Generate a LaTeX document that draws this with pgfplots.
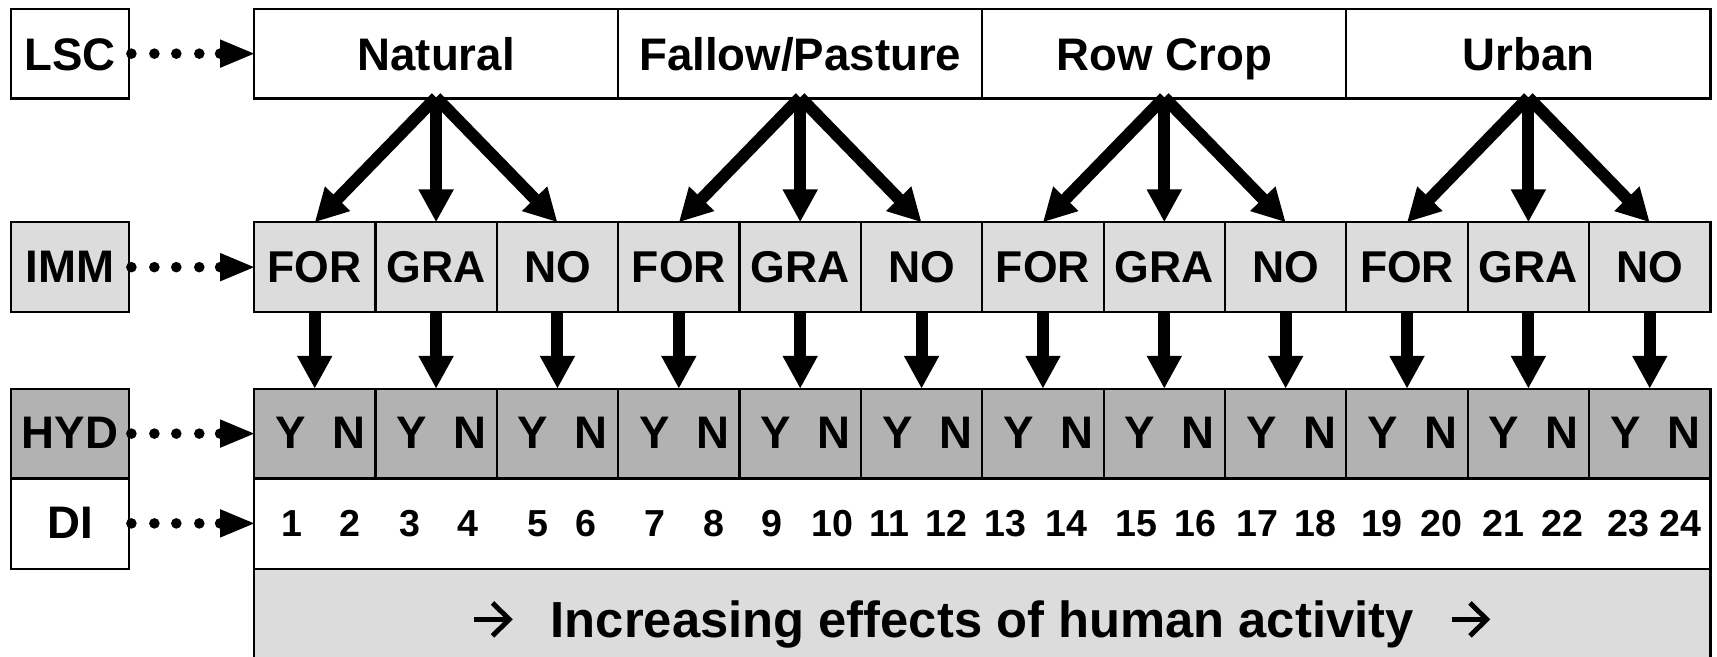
\documentclass[border=0pt]{standalone}
\usepackage{pgfplots}
\pgfplotsset{compat=1.18}
\usepackage{pgfplotstable}
\usepackage{fontspec}
\setmainfont{Liberation Sans}
\usetikzlibrary{arrows.meta}
\definecolor{lg}{HTML}{DCDCDC}
\definecolor{dg}{HTML}{B2B2B2}
\newcommand{\txtarrow}{\tikz[baseline=0pt]{\draw[line width=1.35pt,-{Straight Barb[length=4.6pt,width=9pt,line width=1.35pt]}] (0,4.9pt) -- (10.6pt,4.9pt);}}
\pgfplotstableread{
x label
267 1
320 2
374 3
427 4
491 5
535 6
598 7
652 8
705 9
760 10
812 11
864 12
918 13
974 14
1038 15
1092 16
1148 17
1201 18
1262 19
1316 20
1373 21
1427 22
1487 23
1535 24
}\ditable
\begin{document}
\begin{tikzpicture}
\begin{axis}[width=470.4pt,height=180pt,scale only axis,
  xmin=0,xmax=1568,ymin=0,ymax=600,hide axis,clip=false]
% left label boxes
\draw[line width=0.6pt,fill=white] (10,510) rectangle (118,592);
\draw[line width=0.6pt,fill=lg] (10,315) rectangle (118,397);
\draw[line width=0.6pt,fill=dg] (10,163) rectangle (118,245);
\draw[line width=0.6pt,fill=white] (10,80) rectangle (118,163);
\node[anchor=base,font=\bfseries\fontsize{12.5}{15}\selectfont,inner sep=0pt] at (64,536) {LSC};
\node[anchor=base,font=\bfseries\fontsize{12.5}{15}\selectfont,inner sep=0pt] at (64,342) {IMM};
\node[anchor=base,font=\bfseries\fontsize{12.5}{15}\selectfont,inner sep=0pt] at (64,190) {HYD};
\node[anchor=base,font=\bfseries\fontsize{12.5}{15}\selectfont,inner sep=0pt] at (64,108) {DI};
% dotted arrows
\pgfplotsinvokeforeach{551,356,204,122}{
  \fill (120,#1) circle[radius=1.45pt];
  \fill (141,#1) circle[radius=1.45pt];
  \fill (161,#1) circle[radius=1.45pt];
  \fill (182,#1) circle[radius=1.45pt];
  \fill (201,#1) circle[radius=1.45pt];
  \fill (201,{#1+13}) -- (232,#1) -- (201,{#1-13}) -- cycle;
}
% top row
\pgfplotsinvokeforeach{0,1,2,3}{
  \draw[line width=0.6pt,fill=white] ({232+#1*332.5},510) rectangle ({232+(#1+1)*332.5},592);
}
\node[anchor=base,font=\bfseries\fontsize{12.5}{15}\selectfont,inner sep=0pt] at (398.25,536) {Natural};
\node[anchor=base,font=\bfseries\fontsize{12.5}{15}\selectfont,inner sep=0pt] at (730.75,536) {Fallow/Pasture};
\node[anchor=base,font=\bfseries\fontsize{12.5}{15}\selectfont,inner sep=0pt] at (1063.25,536) {Row Crop};
\node[anchor=base,font=\bfseries\fontsize{12.5}{15}\selectfont,inner sep=0pt] at (1395.75,536) {Urban};
% IMM and HYD cells
\pgfplotsinvokeforeach{0,...,11}{
  \draw[line width=0.6pt,fill=lg] ({232+#1*110.833},315) rectangle ({232+(#1+1)*110.833},397);
  \draw[line width=0.6pt,fill=dg] ({232+#1*110.833},163) rectangle ({232+(#1+1)*110.833},245);
  \node[anchor=base,font=\bfseries\fontsize{12.5}{15}\selectfont,inner sep=0pt] at ({232+(#1+0.3)*110.833},190) {Y};
  \node[anchor=base,font=\bfseries\fontsize{12.5}{15}\selectfont,inner sep=0pt] at ({232+(#1+0.78)*110.833},190) {N};
  \draw[line width=3.3pt,-{Triangle[length=9pt,width=9pt]}] ({232+(#1+0.5)*110.833},315) -- ({232+(#1+0.5)*110.833},245);
}
\pgfplotsinvokeforeach{0,1,2,3}{
  \node[anchor=base,font=\bfseries\fontsize{12.2}{15}\selectfont,inner sep=0pt] at ({232+(3*#1+0.5)*110.833},342) {FOR};
  \node[anchor=base,font=\bfseries\fontsize{12.2}{15}\selectfont,inner sep=0pt] at ({232+(3*#1+1.5)*110.833},342) {GRA};
  \node[anchor=base,font=\bfseries\fontsize{12.2}{15}\selectfont,inner sep=0pt] at ({232+(3*#1+2.5)*110.833},342) {NO};
  \draw[line width=3.3pt,-{Triangle[length=9pt,width=9pt]}] ({232+(3*#1+1.5)*110.833},511) -- ({232+(3*#1+0.5)*110.833},397);
  \draw[line width=3.3pt,-{Triangle[length=9pt,width=9pt]}] ({232+(3*#1+1.5)*110.833},511) -- ({232+(3*#1+1.5)*110.833},397);
  \draw[line width=3.3pt,-{Triangle[length=9pt,width=9pt]}] ({232+(3*#1+1.5)*110.833},511) -- ({232+(3*#1+2.5)*110.833},397);
}
% DI row
\draw[line width=0.6pt,fill=white] (232,80) rectangle (1562,163);
\addplot[only marks, mark=none, nodes near coords, point meta=explicit symbolic,
  nodes near coords style={anchor=base,inner sep=0pt,font=\bfseries\fontsize{10.3}{12}\selectfont}]
  table[x=x, y expr=110, meta=label] {\ditable};
% bottom box
\fill[lg] (232,0) rectangle (1562,80);
\draw[line width=0.6pt] (232,0) -- (232,80) -- (1562,80) -- (1562,0);
\node[anchor=base,font=\bfseries\fontsize{13.9}{16}\selectfont,inner sep=0pt] at (897,18) {\txtarrow\hspace{0.7em}Increasing effects of human activity\hspace{0.7em}\txtarrow};
\end{axis}
\pgfresetboundingbox
\path (current axis.south west) rectangle (current axis.north east);
\end{tikzpicture}
\end{document}
